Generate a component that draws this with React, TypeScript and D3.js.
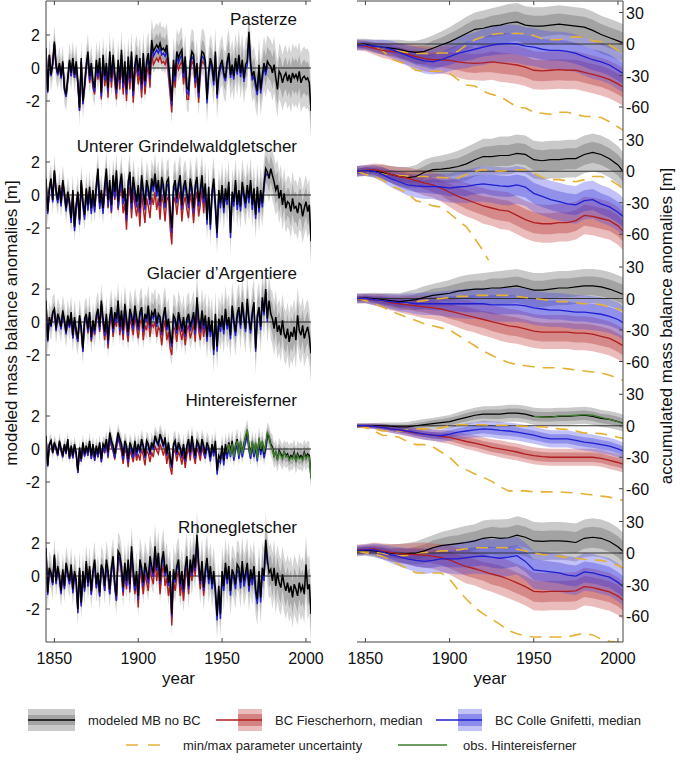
import React from "react";
import * as d3 from "d3";

// ---------- categories ----------
const glacierNames = ["Pasterze", "Unterer Grindelwaldgletscher", "Glacier d\u2019Argentiere", "Hintereisferner", "Rhonegletscher"];
const years = d3.range(1845, 2004); // annual 1845..2003
const xTicks = [1850, 1900, 1950, 2000];
const leftTicks = [2, 0, -2];
const rightTicks = [30, 0, -30, -60];

// ---------- annual modeled MB anomalies (no BC), 1845..2003 ----------
const mbPasterze = [
  1.2, -1.4, 0.8, -0.4, 0.3,
  1.6, 0.2, -0.3, 0.3, -0.5, 0.4, -1.2, -1.6, -0.6, 0.5,
  -0.3, 0.6, -0.4, 0.4, -0.8, -2.4, 0.6, -2.0, -1.0, 0.2,
  1.0, -0.5, 0.3, -0.8, -1.2, 0.5, -0.3, 0.6, -1.5, 0.8,
  -0.5, 0.3, -1.2, 1.0, -0.6, 0.8, -0.3, -1.3, 0.5, -0.7,
  1.1, -0.9, 0.4, -1.3, 0.7, -0.6, 1.0, -1.4, 0.2, 0.8,
  -0.2, 0.6, -1.0, 0.9, -0.8, 0.4, 0.9, -0.4, 1.7, 1.0,
  1.2, 1.4, 1.2, 1.5, 1.1, 1.2, 1.0, 1.4, 0.3, -0.8,
  -2.0, 0.5, -0.5, 1.0, 0.6, 0.9, 1.1, -0.3, 0.7, -1.2,
  -1.3, 0.4, 1.0, 0.8, -0.6, 0.3, -1.5, 0.2, 1.0, 0.9,
  0.4, -1.9, -0.2, 0.6, 0.2, -0.8, 1.0, -1.6, -0.3, 0.2,
  0.5, -0.3, -0.6, 0.4, 0.9, -0.4, 0.2, -0.5, 0.6, -0.2,
  0.8, -0.3, 0.5, -0.6, 0.2, 0.4, 2.2, 0.3, -0.5, -0.2,
  -0.9, -1.4, 0.2, -1.3, -0.4, 0.3, -0.2, 0.4, 0.2, 0.1,
  -0.3, 0.2, -0.6, -1.3, -0.2, -0.4, -0.9, -0.5, -0.3, -0.8,
  -0.4, -0.9, -0.3, -0.6, -0.4, -0.7, -0.2, -0.9, -0.6, -0.5,
  -0.7, -0.6, -0.9, -2.6,
];
const mbUnterer = [
  1.0, -1.0, 0.4, 1.0, -0.3,
  1.5, 0.3, -0.3, 0.6, -0.5, 0.9, 0.1, -0.8, 0.2, -0.4,
  -1.4, 0.3, -1.9, -0.6, 0.2, -1.5, 0.9, -0.4, -1.2, 0.4,
  -0.6, 0.5, -0.8, 0.3, -0.7, 0.6, 1.6, -0.5, 0.3, -0.8,
  0.6, 1.6, -0.3, 0.9, -0.6, 1.2, 0.2, 1.5, -0.4, 0.6,
  1.3, -0.2, 0.4, -1.2, 0.8, 1.4, -0.5, 1.1, 0.3, -0.4,
  0.6, -0.8, 1.2, 0.3, -0.6, 0.9, 0.4, -0.3, 1.0, 0.5,
  1.3, 0.2, 0.9, -0.4, 1.1, 0.6, -0.5, 0.8, 1.0, -0.9,
  -2.0, 0.5, 0.9, -0.2, 0.7, 1.2, -0.6, 0.5, 0.9, 0.1,
  -0.5, 1.0, 0.4, -0.8, 0.6, 1.1, -0.4, 0.3, 1.2, -0.2,
  0.7, -1.5, 0.5, -1.8, 0.2, 1.0, -0.6, -2.3, 0.3, -0.5,
  0.6, -0.8, 0.4, -0.3, 0.8, -2.3, 0.2, -0.4, 0.9, -0.6,
  0.3, -0.7, 0.8, 0.1, -0.5, 0.6, -0.2, 0.9, -0.6, 0.4,
  -1.2, 0.5, -0.8, 0.3, -0.5, 0.7, 1.6, 1.4, 1.0, 1.6,
  1.2, 0.8, 0.3, 0.6, -0.2, 0.3, -0.6, 0.1, -0.8, -0.4,
  -0.5, -1.0, -0.2, -0.8, -0.7, -1.1, -0.5, -0.6, -1.3, -0.8,
  -0.4, -1.0, -0.6, -2.8,
];
const mbArgentiere = [
  1.3, -1.1, 0.3, -0.2, 0.6,
  0.8, -0.4, 0.5, 0.2, -0.3, 0.7, 0.1, -0.6, 0.4, -0.2,
  0.6, -0.8, 0.3, -0.5, -1.0, 0.4, -0.3, -1.6, 0.2, 0.5,
  -0.4, 0.6, -0.9, 0.1, -0.5, 0.4, 0.8, -0.3, 1.3, 0.2,
  -0.6, 0.5, -1.1, 0.3, 0.9, -0.4, 0.6, 0.2, 1.3, -0.3,
  0.7, -0.5, 1.1, 0.2, -0.6, 0.8, 0.4, -0.2, 1.0, 0.3,
  -0.3, 0.6, 0.9, -0.4, 0.5, 0.2, 1.0, -0.2, 0.6, 0.4,
  0.8, -0.1, 0.5, 0.3, -0.6, 0.4, 0.9, -0.3, 0.2, -0.8,
  -1.3, 0.4, 0.2, -0.5, 0.6, 0.1, -0.4, 0.3, -0.7, 0.2,
  0.5, -0.3, 0.1, 0.6, -0.5, 1.5, 0.2, -0.4, 0.7, -0.2,
  0.4, -0.9, 0.3, -0.6, 0.1, -1.7, 0.5, -1.5, 0.2, -0.3,
  0.4, -0.5, 0.8, -0.2, 0.3, -0.8, 1.0, 0.1, -0.6, 0.5,
  0.9, -0.2, 1.2, 0.3, -0.4, 1.4, 0.2, -0.5, 0.6, 1.2,
  -1.6, 0.4, 0.9, -0.3, 1.5, 0.6, 2.0, 0.2, 1.3, 0.5,
  0.2, -0.4, 0.3, -0.6, -0.2, -0.8, 0.1, -0.7, -1.0, -0.4,
  -1.2, -0.6, -0.9, -0.3, -1.1, 0.4, -0.5, -0.8, -0.2, -1.0,
  -0.6, -0.3, -0.9, -1.9,
];
const mbHintereis = [
  0.8, -1.0, 0.3, 0.5, -0.2,
  0.4, 0.1, -0.3, 0.5, 0.0, -0.4, 0.3, -0.2, 0.6, -0.5,
  0.2, -0.4, 0.3, -0.2, -1.3, 0.1, -0.6, 0.4, -0.3, 0.2,
  -0.2, 0.5, -0.4, 0.3, -0.5, 0.2, -0.3, 0.4, -0.6, 0.3,
  0.1, 0.6, -0.2, 1.0, 0.5, 0.2, -0.3, 0.4, 1.0, 0.6,
  0.3, -0.4, 0.5, 0.2, -0.6, 0.4, 0.1, -0.3, 0.5, -0.2,
  0.3, -0.1, 0.6, 0.2, -0.4, 0.5, 0.3, -0.2, 0.4, 0.1,
  0.8, 0.5, 0.3, 0.9, 0.6, 0.2, 0.7, -0.3, 0.4, -0.5,
  -1.0, 0.3, 0.5, -0.2, 0.4, 0.1, -0.4, 0.3, -0.6, 0.2,
  0.6, -0.2, 0.8, 0.1, -0.4, 0.5, 0.3, -0.2, 0.6, 0.2,
  -0.3, 0.4, 0.1, -0.5, 0.3, -0.2, 0.5, -1.3, -0.4, -0.6,
  0.2, -0.7, 0.3, -0.3, 0.4, -0.2, 0.5, -0.4, 0.2, 0.6,
  -0.3, 0.4, -0.2, 0.3, 0.7, 1.1, 0.2, -0.3, 0.4, -0.2,
  0.3, -0.5, 0.6, -0.1, 0.4, -0.3, 0.2, 0.9, 0.7, 0.3,
  0.1, -0.4, -0.2, -0.6, -0.1, -0.3, -0.5, -0.2, -0.4, -0.3,
  -0.6, -0.4, -0.5, -0.2, -0.7, -0.3, -0.5, -0.4, -0.6, -0.2,
  -0.5, -0.3, -0.4, -1.7,
];
const mbRhone = [
  1.7, -1.0, 0.5, 0.2, -0.4,
  1.3, -0.3, 0.6, 0.0, -0.9, 0.4, -0.6, 0.8, 0.2, -0.3,
  0.7, -0.8, 0.3, -0.2, -2.0, 0.5, -1.6, 0.3, -0.7, 0.9,
  -0.4, 0.6, -0.9, 0.3, 1.0, -0.5, 0.2, -1.0, 0.7, 0.4,
  -0.6, 1.0, 0.3, -0.8, 0.5, 1.2, -0.4, -1.2, 1.5, 1.3,
  0.6, -0.7, 0.8, -0.3, 1.0, -0.5, 1.8, 0.4, -0.6, 0.3,
  -1.2, 1.0, 0.5, -0.4, 0.8, 0.3, -0.2, 1.2, 0.6, 0.2,
  1.8, 0.5, 1.4, -0.3, 0.9, 1.5, 0.2, 0.7, -0.4, 0.3,
  -2.3, 0.4, -0.2, 0.6, 1.0, -0.5, 0.3, -0.8, 0.5, 1.2,
  -0.6, 1.0, 0.2, 1.3, 0.5, 2.5, 0.8, -0.3, 0.9, -0.7,
  0.4, 1.1, -0.2, 0.6, -0.5, 0.3, -0.8, -2.4, -0.6, -2.3,
  0.3, -0.6, 0.8, -0.2, 0.6, -0.9, 0.4, 0.1, -0.5, 0.7,
  0.5, -0.4, 0.9, -0.3, 0.2, 0.8, -0.6, 0.4, -0.2, 0.6,
  -0.8, -1.4, 0.3, -1.3, 0.5, 0.0, 2.2, 1.0, 0.2, 0.4,
  -0.3, 0.5, -0.6, 0.2, -0.4, -0.7, 0.1, -0.5, -0.9, -0.4,
  -1.0, -0.6, -1.3, -0.5, -0.8, -1.2, -0.4, -0.9, -0.6, -1.1,
  0.7, -0.8, -0.5, -2.3,
];
// observed Hintereisferner MB, 1953..2003
const obsHintereisYears = d3.range(1953, 2004);
const obsHintereis = [
  -0.2, 0.3, -0.4, 0.3, -0.5, 0.2, 0.5,
  -0.4, 0.5, -0.3, 0.2, 0.8, 1.2, 0.1, -0.4, 0.5, -0.3,
  0.4, -0.6, 0.7, 0.0, 0.5, -0.2, 0.3, 1.0, 0.8, 0.2,
  0.0, -0.5, -0.1, -0.7, -0.2, -0.4, -0.6, -0.1, -0.5, -0.4,
  -0.7, -0.5, -0.6, -0.3, -0.8, -0.4, -0.6, -0.5, -0.7, -0.3,
  -0.6, -0.4, -0.5, -1.8,
];

// BC reduction of annual MB per decade (1840s..) -> BC median curves
const bcRedPasterze = [0.0, 0.1, 0.2, 0.4, 0.6, 0.7, 0.8, 0.8, 0.7, 0.6, 0.3];
const bcRedUnterer = [0.05, 0.05, 0.1, 0.2, 0.5, 0.9, 1.1, 1.1, 1.0, 0.9, 0.4];
const bcRedArgentiere = [0.05, 0.1, 0.2, 0.3, 0.5, 0.6, 0.7, 0.8, 0.7, 0.7, 0.5];
const bcRedHintereis = [0.05, 0.1, 0.15, 0.2, 0.35, 0.5, 0.6, 0.6, 0.55, 0.5, 0.3];
const bcRedRhone = [0.05, 0.1, 0.15, 0.2, 0.3, 0.5, 0.7, 0.8, 0.7, 0.5, 0.3];
const bcBluePasterze = [0.1, 0.15, 0.2, 0.25, 0.25, 0.3, 0.3, 0.3, 0.3, 0.3, 0.25, 0.2, 0.25, 0.25];
const bcBlueUnterer = [0.15, 0.2, 0.3, 0.35, 0.4, 0.35, 0.3, 0.3, 0.3, 0.3, 0.3, 0.3, 0.3, 0.25];
const bcBlueArgentiere = [0.1, 0.15, 0.2, 0.2, 0.25, 0.25, 0.2, 0.2, 0.2, 0.25, 0.3, 0.25, 0.2, 0.2];
const bcBlueHintereis = [0.05, 0.1, 0.15, 0.2, 0.25, 0.25, 0.15, 0.1, 0.15, 0.2, 0.25, 0.3, 0.3, 0.25];
const bcBlueRhone = [0.15, 0.2, 0.25, 0.25, 0.3, 0.3, 0.25, 0.2, 0.2, 0.2, 0.3, 0.3, 0.35, 0.3];
const redLastYear = 1940;
const blueLastYear = 1977;

// uncertainty half-widths of annual MB per decade (1840s..2000s)
const bandInnerAnnual = [0.45, 0.45, 0.5, 0.5, 0.55, 0.6, 0.65, 0.7, 0.7, 0.7, 0.75, 0.8, 0.85, 0.9, 0.95, 1.0, 1.0];
const bandOuterAnnual = [1.0, 1.0, 1.05, 1.1, 1.15, 1.2, 1.3, 1.35, 1.4, 1.4, 1.45, 1.5, 1.55, 1.6, 1.7, 1.8, 1.8];
const bandScaleAnnual = [1.0, 0.9, 0.95, 0.45, 1.0];

// ---------- accumulated anomalies (5-year steps) ----------
const accYears = [1845, 1850, 1855, 1860, 1865, 1870, 1875, 1880, 1885, 1890, 1895, 1900, 1905, 1910, 1915, 1920, 1925, 1930, 1935, 1940, 1945, 1950, 1955, 1960, 1965, 1970, 1975, 1980, 1985, 1990, 1995, 2000, 2003];

const accNoBcPasterze = [0, 0, -2, -3, -4, -5, -7, -8, -7, -4, -1, 2, 6, 10, 14, 15, 17, 18, 20, 21, 18, 17, 17, 18, 19, 18, 17, 16, 13, 9, 6, 3, 1];
const accFiesPasterze = [-1, -2, -4, -6, -7, -8, -10, -12, -14, -15, -15, -15.5, -17, -18, -18.5, -18, -17, -18, -19, -20, -22, -25, -25.5, -25, -24.5, -25, -25, -27, -29, -31, -34, -38, -41];
const accColPasterze = [-1, -1, -2, -3, -5, -8, -11, -14, -16, -17, -15, -12, -9, -7, -5, -3, -1, 0, 0.5, 0, -2, -3, -5, -6, -6, -7, -9, -12, -15, -17, -20, -25, -28];
const accMaxPasterze = [0, -1, -2.5, -3, -5, -7, -8, -9, -9, -9, -8.5, -8.5, -7, -1, 4, 7, 9, 10, 10, 10, 10, 8, 5, 4, 4, 6, 7, 6, 3, 2, -1, -6, -15];
const accMinPasterze = [0, -1.5, -3, -6, -14, -17, -20, -25, -26, -26, -26, -28, -34, -39, -40, -45, -48, -50, -55, -60, -61, -65, -66, -67, -65, -65, -67, -69, -69, -70, -74, -79, -82];

const accNoBcUnterer = [0, 0.5, 0, -1, -3, -5, -6, -5, -1, 1.5, 2, 3, 4.5, 7, 11, 14, 14, 15, 15, 17, 16, 11, 10, 11, 11, 12, 12, 16, 18, 16, 12, 6, 0];
const accFiesUnterer = [0, 1, 1.5, 0, -3, -5, -6.5, -9, -11, -13, -16, -20, -24, -27, -30, -33, -35, -37, -38, -42, -46, -49, -50, -50, -49, -49, -47, -42, -43, -45, -47, -52, -57];
const accColUnterer = [0, 0.5, 0, -3, -7, -10, -13, -14, -14.5, -14.5, -15, -16, -15, -14.5, -13, -12, -13, -14, -14.5, -13, -15, -21, -24, -27, -29, -31, -32, -28, -27, -31, -34, -39, -43];
const accMaxUnterer = [0, 0, -1, -2, -3, -4, -4.5, -5, -5, -5.5, -6, -6.5, -6.5, -3, 0, 1.5, 1, 0, 1, 1.5, 1.5, -2, -6, -8, -8, -9, -10, -8, -5, -5, -8, -13, -17];
const accMinUnterer = [0, -3, -5, -8, -14, -17, -21, -28, -30, -33, -34, -40, -47, -53, -64, -76, -90, null, null, null, null, null, null, null, null, null, null, null, null, null, null, null, null];

const accNoBcArgentiere = [0, 0.5, 0, -1, -2, -3, -2, -1, 1, 3, 4, 5, 7, 8, 9, 9, 10, 10, 11, 12, 10, 8, 8, 9, 10, 10, 11, 12, 12, 11, 9, 6, 4];
const accFiesArgentiere = [0, 0, -1, -2, -4, -5, -6, -7, -8, -9, -10, -12, -14, -16, -18, -20, -22, -24, -26, -27, -29, -31, -32, -32, -32, -32, -33, -33, -34, -36, -38, -42, -45];
const accColArgentiere = [0, 0, -1, -2, -3, -4, -4, -5, -5, -5, -5, -5, -5, -5, -5, -5, -6, -6, -6, -6, -7, -9, -10, -11, -11, -12, -13, -13, -14, -15, -17, -20, -23];
const accMaxArgentiere = [0, -0.5, -1, -2, -3, -4, -4, -3, -2, -1, 0, 1, 2, 2, 3, 3, 3, 3, 3, 2, 1, 0, -1, -2, -3, -3, -4, -5, -5, -6, -8, -10, -12];
const accMinArgentiere = [0, -2, -5, -8, -12, -15, -18, -21, -24, -26, -28, -30, -35, -40, -45, -50, -54, -58, -61, -63, -64, -65, -66, -66, -66, -67, -68, -69, -70, -71, -73, -76, -78];

const accNoBcHintereis = [0, 0, 0, 0, -0.5, -1, -1, 0, 1, 2, 3, 4, 6, 8, 10, 11, 11, 11, 12, 12, 11, 9, 8.5, 8.5, 9, 9, 9.5, 10, 9, 7, 6, 4, 2.5];
const accFiesHintereis = [0, 0, -0.5, -1.5, -3, -4, -5.5, -7, -8, -9, -10, -11, -13, -15, -16.5, -18.5, -20.5, -22, -23.5, -25, -27, -28.5, -29.5, -30, -30, -30, -30, -30, -30, -31, -33, -35, -36.5];
const accColHintereis = [0, 0, -0.5, -1.5, -3, -4, -5, -6.5, -8, -9, -9.5, -8, -6, -5, -4, -3, -3.5, -4.5, -5, -6, -7.5, -9, -11, -12.5, -12.5, -12.5, -14, -15.5, -16.5, -18, -19.5, -22, -24];
const accMaxHintereis = [0, -1, -3, -5, -5, -5, -4, -3, -3, -3, -2, 0, 1, 1, 1, 1, 0.5, 0.5, 0.5, 0, -0.5, -1, -1, -2, -3, -3.5, -5, -7, -7, -7.5, -9, -11, -12];
const accMinHintereis = [0, -2, -5, -9, -9.5, -11, -15, -18, -18, -20, -25, -30, -38, -42, -46, -49, -53, -58, -62, -62, -62, -63, -63, -63, -63, -63.5, -64, -65, -66, -67, -68, -70, -71];
const accObsHintereis = [null, null, null, null, null, null, null, null, null, null, null, null, null, null, null, null, null, null, null, null, null, 9, 8.5, 8, 9.5, 9.5, 10, 10.5, 10, 8, 6, 4, 2];

const accNoBcRhone = [2, 2.5, 2, 1, 0, -0.5, -0.5, 0, 2, 5, 7, 8, 9, 10, 11.5, 14, 15, 14, 14.5, 17, 15, 11.5, 11, 11.5, 11.5, 11, 10, 14, 15, 14, 11, 6, 1.5];
const accFiesRhone = [3, 3.5, 4, 2, 0.5, -0.5, -1, -1.5, -2, -3, -4.5, -6.5, -10, -13, -15, -17.5, -20, -22, -25, -28.5, -32, -36.5, -37, -36.5, -36.5, -36.5, -36, -32, -33, -35, -37, -41, -45];
const accColRhone = [2.5, 3, 3, 1, -1.5, -3.5, -5.5, -7, -8, -7, -5.5, -5.5, -5.5, -4.5, -3.5, -3, -4, -5, -4, -2.5, -8, -16, -17, -18, -19, -21, -22, -18, -19, -21, -23, -28, -32];
const accMaxRhone = [2, 1, 1, 0, -2, -3, -2, 0, 0.5, 1, 2, 2, 3, 4, 5, 5, 5, 5, 5, 3.5, 2, 0, -1.5, -2, -3, -4.5, -5, -6, -6.5, -7, -9, -12, -14];
const accMinRhone = [2, 0, -1, -3, -7, -11, -15, -19, -19, -19, -19, -25, -35, -44, -52, -58, -63, -68, -74, -77, -79, -80, -80, -80, -80, -80, -78, -76.5, -78, -82, -84, -85, -86];

// uncertainty half-widths of accumulated MB (per 5-year step)
const accBandOuter = [5, 5, 6, 7, 8, 9, 10, 11, 12, 12, 13, 14, 15, 16, 16, 17, 17, 18, 18, 18, 18, 18, 18, 18, 18, 18, 18, 18, 18, 18, 18, 18, 18];
const accBandInner = [2.5, 3, 3, 4, 4, 5, 5, 6, 6, 7, 7, 8, 8, 9, 9, 9, 10, 10, 10, 10, 10, 10, 10, 10, 10, 10, 10, 10, 10, 10, 10, 10, 10];
const accBandScale = [1.0, 1.0, 0.9, 0.45, 1.0];

// ---------- assemble ----------
const annualMB = [mbPasterze, mbUnterer, mbArgentiere, mbHintereis, mbRhone];
const bcRed = [bcRedPasterze, bcRedUnterer, bcRedArgentiere, bcRedHintereis, bcRedRhone];
const bcBlue = [bcBluePasterze, bcBlueUnterer, bcBlueArgentiere, bcBlueHintereis, bcBlueRhone];
const accNoBc = [accNoBcPasterze, accNoBcUnterer, accNoBcArgentiere, accNoBcHintereis, accNoBcRhone];
const accFies = [accFiesPasterze, accFiesUnterer, accFiesArgentiere, accFiesHintereis, accFiesRhone];
const accCol = [accColPasterze, accColUnterer, accColArgentiere, accColHintereis, accColRhone];
const accMax = [accMaxPasterze, accMaxUnterer, accMaxArgentiere, accMaxHintereis, accMaxRhone];
const accMin = [accMinPasterze, accMinUnterer, accMinArgentiere, accMinHintereis, accMinRhone];

// ---------- layout ----------
const FONT = "'Liberation Sans', Arial, Helvetica, sans-serif";
const LX0 = 46, LX1 = 311, RX0 = 357, RX1 = 623;
const TOP = 1, BOTTOM = 642;
const xL = d3.scaleLinear().domain([1845, 2003]).range([LX0, LX1]);
const xR = d3.scaleLinear().domain([1845, 2003]).range([RX0, RX1]);
const leftZero = (i: number) => 68 + 127 * i;
const rightZero = (i: number) => 44 + 127.25 * i;
const decadeIdx = (y: number) => Math.floor((y - 1840) / 10);

const C = {
  grayL: "#d5d5d5", grayD: "#ababab",
  grayLR: "#c9c9c9", grayDR: "#a3a3a3",
  red: "#b01e1e", blue: "#1e1ed2", green: "#3e7c2e", yellow: "#e6b035",
  axis: "#444",
  redBand: "rgb(195,60,60)", redBand2: "rgb(170,30,30)",
  blueBand: "rgb(75,75,235)", blueBand2: "rgb(45,45,210)",
};

function LeftPanel({ i }: { i: number }) {
  const z = leftZero(i);
  const y = d3.scaleLinear().domain([0, 1]).range([z, z - 16.5]);
  const mb = annualMB[i];
  const sc = bandScaleAnnual[i];
  const pts = years.map((yr, k) => ({ yr, v: mb[k], d: decadeIdx(yr) }));
  const area = (w: number[]) =>
    d3.area<any>().x((p) => xL(p.yr)).y0((p) => y(p.v - w[p.d] * sc)).y1((p) => y(p.v + w[p.d] * sc))(pts) || "";
  const line = d3.line<any>().x((p) => xL(p.yr)).y((p) => y(p.v));
  const redPts = pts.filter((p) => p.yr <= redLastYear).map((p) => ({ yr: p.yr, v: p.v - bcRed[i][p.d] }));
  const bluePts = pts.filter((p) => p.yr <= blueLastYear).map((p) => ({ yr: p.yr, v: p.v - bcBlue[i][p.d] }));
  const obsPts = i === 3 ? obsHintereisYears.map((yr, k) => ({ yr, v: obsHintereis[k] })) : null;
  const clipId = `clipL${i}`;
  return (
    <g>
      <clipPath id={clipId}>
        <rect x={LX0} y={z - 66} width={LX1 - LX0} height={133} />
      </clipPath>
      <g clipPath={`url(#${clipId})`}>
        <path d={area(bandOuterAnnual)} fill={C.grayL} />
        <path d={area(bandInnerAnnual)} fill={C.grayD} />
        <line x1={LX0} x2={LX1} y1={y(0)} y2={y(0)} stroke="#222" strokeWidth={1} />
        <path d={line(redPts) || ""} fill="none" stroke={C.red} strokeWidth={1.4} />
        <path d={line(bluePts) || ""} fill="none" stroke={C.blue} strokeWidth={1.4} />
        <path d={line(pts) || ""} fill="none" stroke="#000" strokeWidth={1.5} />
        {obsPts && <path d={line(obsPts) || ""} fill="none" stroke={C.green} strokeWidth={1.4} />}
      </g>
      {leftTicks.map((t) => (
        <g key={t}>
          <line x1={LX0} x2={LX0 + 4} y1={y(t)} y2={y(t)} stroke={C.axis} />
          <text x={40} y={y(t) + 6} textAnchor="end" fontSize={16} fontFamily={FONT} fill="#111">
            {t < 0 ? `-${-t}` : t}
          </text>
        </g>
      ))}
      <text x={297} y={z - 43} textAnchor="end" fontSize={17} fontFamily={FONT} fill="#111">
        {glacierNames[i]}
      </text>
    </g>
  );
}

function RightPanel({ i }: { i: number }) {
  const z = rightZero(i);
  const y = d3.scaleLinear().domain([0, 30]).range([z, z - 31.5]);
  const sc = accBandScale[i];
  const mk = (arr: (number | null)[]) => accYears.map((yr, k) => ({ yr, v: arr[k], k }));
  const band = (arr: number[], w: number[]) =>
    d3.area<any>().x((p) => xR(p.yr)).y0((p) => y(p.v - w[p.k] * sc)).y1((p) => y(p.v + w[p.k] * sc))(mk(arr)) || "";
  const line = d3.line<any>().defined((p) => p.v !== null).x((p) => xR(p.yr)).y((p) => y(p.v));
  const clipId = `clipR${i}`;
  return (
    <g>
      <clipPath id={clipId}>
        <rect x={RX0} y={z - 42} width={RX1 - RX0} height={131} />
      </clipPath>
      <g clipPath={`url(#${clipId})`}>
        <path d={band(accNoBc[i], accBandOuter)} fill={C.grayLR} />
        <path d={band(accNoBc[i], accBandInner)} fill={C.grayDR} />
        <path d={band(accFies[i], accBandOuter)} fill={C.redBand} fillOpacity={0.34} />
        <path d={band(accFies[i], accBandInner)} fill={C.redBand2} fillOpacity={0.32} />
        <path d={band(accCol[i], accBandOuter)} fill={C.blueBand} fillOpacity={0.34} />
        <path d={band(accCol[i], accBandInner)} fill={C.blueBand2} fillOpacity={0.32} />
        <line x1={RX0} x2={RX1} y1={y(0)} y2={y(0)} stroke="#333" strokeWidth={1} />
        <path d={line(mk(accMax[i])) || ""} fill="none" stroke={C.yellow} strokeWidth={1.6} strokeDasharray="12 8" />
        <path d={line(mk(accMin[i])) || ""} fill="none" stroke={C.yellow} strokeWidth={1.6} strokeDasharray="12 8" />
        <path d={line(mk(accNoBc[i])) || ""} fill="none" stroke="#000" strokeWidth={1.2} />
        {i === 3 && <path d={line(mk(accObsHintereis)) || ""} fill="none" stroke={C.green} strokeWidth={1.3} />}
        <path d={line(mk(accFies[i])) || ""} fill="none" stroke={C.red} strokeWidth={1.3} />
        <path d={line(mk(accCol[i])) || ""} fill="none" stroke={C.blue} strokeWidth={1.3} />
      </g>
      {rightTicks.map((t) => (
        <g key={t}>
          <line x1={RX1 - 4} x2={RX1} y1={y(t)} y2={y(t)} stroke={C.axis} />
          <text x={626} y={y(t) + 6} textAnchor="start" fontSize={16} fontFamily={FONT} fill="#111">
            {t < 0 ? `-${-t}` : t}
          </text>
        </g>
      ))}
    </g>
  );
}

function XAxes({ x, x0, x1 }: { x: any; x0: number; x1: number }) {
  return (
    <g>
      <line x1={x0} x2={x1} y1={TOP} y2={TOP} stroke={C.axis} />
      <line x1={x0} x2={x1} y1={BOTTOM} y2={BOTTOM} stroke={C.axis} />
      {xTicks.map((t) => (
        <g key={t}>
          <line x1={x(t)} x2={x(t)} y1={TOP} y2={TOP + 4} stroke={C.axis} />
          <line x1={x(t)} x2={x(t)} y1={BOTTOM} y2={BOTTOM - 4} stroke={C.axis} />
          <text x={x(t)} y={664} textAnchor="middle" fontSize={16} fontFamily={FONT} fill="#111">
            {t}
          </text>
        </g>
      ))}
      <text x={(x0 + x1) / 2} y={684} textAnchor="middle" fontSize={17} fontFamily={FONT} fill="#111">
        year
      </text>
    </g>
  );
}

function Legend() {
  const ly1 = 720, ly2 = 745;
  const t = (x: number, y: number, s: string) => (
    <text x={x} y={y + 4.5} fontSize={13} fontFamily={FONT} fill="#222">{s}</text>
  );
  return (
    <g>
      <rect x={28} y={ly1 - 11} width={47} height={22} fill={C.grayLR} />
      <rect x={28} y={ly1 - 5} width={47} height={10} fill={C.grayDR} />
      <line x1={28} x2={75} y1={ly1} y2={ly1} stroke="#000" strokeWidth={1.5} />
      {t(88, ly1, "modeled MB no BC")}
      <rect x={238} y={ly1 - 11} width={24} height={22} fill={C.redBand} fillOpacity={0.34} />
      <rect x={238} y={ly1 - 6} width={24} height={12} fill={C.redBand2} fillOpacity={0.36} />
      <line x1={216} x2={262} y1={ly1} y2={ly1} stroke={C.red} strokeWidth={1.3} />
      {t(275, ly1, "BC Fiescherhorn, median")}
      <rect x={458} y={ly1 - 11} width={24} height={22} fill={C.blueBand} fillOpacity={0.34} />
      <rect x={458} y={ly1 - 6} width={24} height={12} fill={C.blueBand2} fillOpacity={0.36} />
      <line x1={436} x2={482} y1={ly1} y2={ly1} stroke={C.blue} strokeWidth={1.3} />
      {t(495, ly1, "BC Colle Gnifetti, median")}
      <line x1={126} x2={160} y1={ly2} y2={ly2} stroke={C.yellow} strokeWidth={1.6} strokeDasharray="12 10" />
      {t(183, ly2, "min/max parameter uncertainty")}
      <line x1={398} x2={447} y1={ly2} y2={ly2} stroke={C.green} strokeWidth={1.3} />
      {t(463, ly2, "obs. Hintereisferner")}
    </g>
  );
}

export default function App() {
  return (
    <svg width={680} height={760} style={{ position: "absolute", left: 0, top: 0, background: "#fff" }}>
      <rect width={680} height={760} fill="#fff" />
      {glacierNames.map((_, i) => <LeftPanel key={"l" + i} i={i} />)}
      {glacierNames.map((_, i) => <RightPanel key={"r" + i} i={i} />)}
      <line x1={LX0} x2={LX0} y1={TOP} y2={BOTTOM} stroke={C.axis} />
      <line x1={RX1} x2={RX1} y1={TOP} y2={BOTTOM} stroke={C.axis} />
      <XAxes x={xL} x0={LX0} x1={LX1} />
      <XAxes x={xR} x0={RX0} x1={RX1} />
      <text transform="translate(17,323) rotate(-90)" textAnchor="middle" fontSize={17} fontFamily={FONT} fill="#111">
        modeled mass balance anomalies [m]
      </text>
      <text transform="translate(672,326) rotate(-90)" textAnchor="middle" fontSize={17} fontFamily={FONT} fill="#111">
        accumulated mass balance anomalies [m]
      </text>
      <Legend />
    </svg>
  );
}
